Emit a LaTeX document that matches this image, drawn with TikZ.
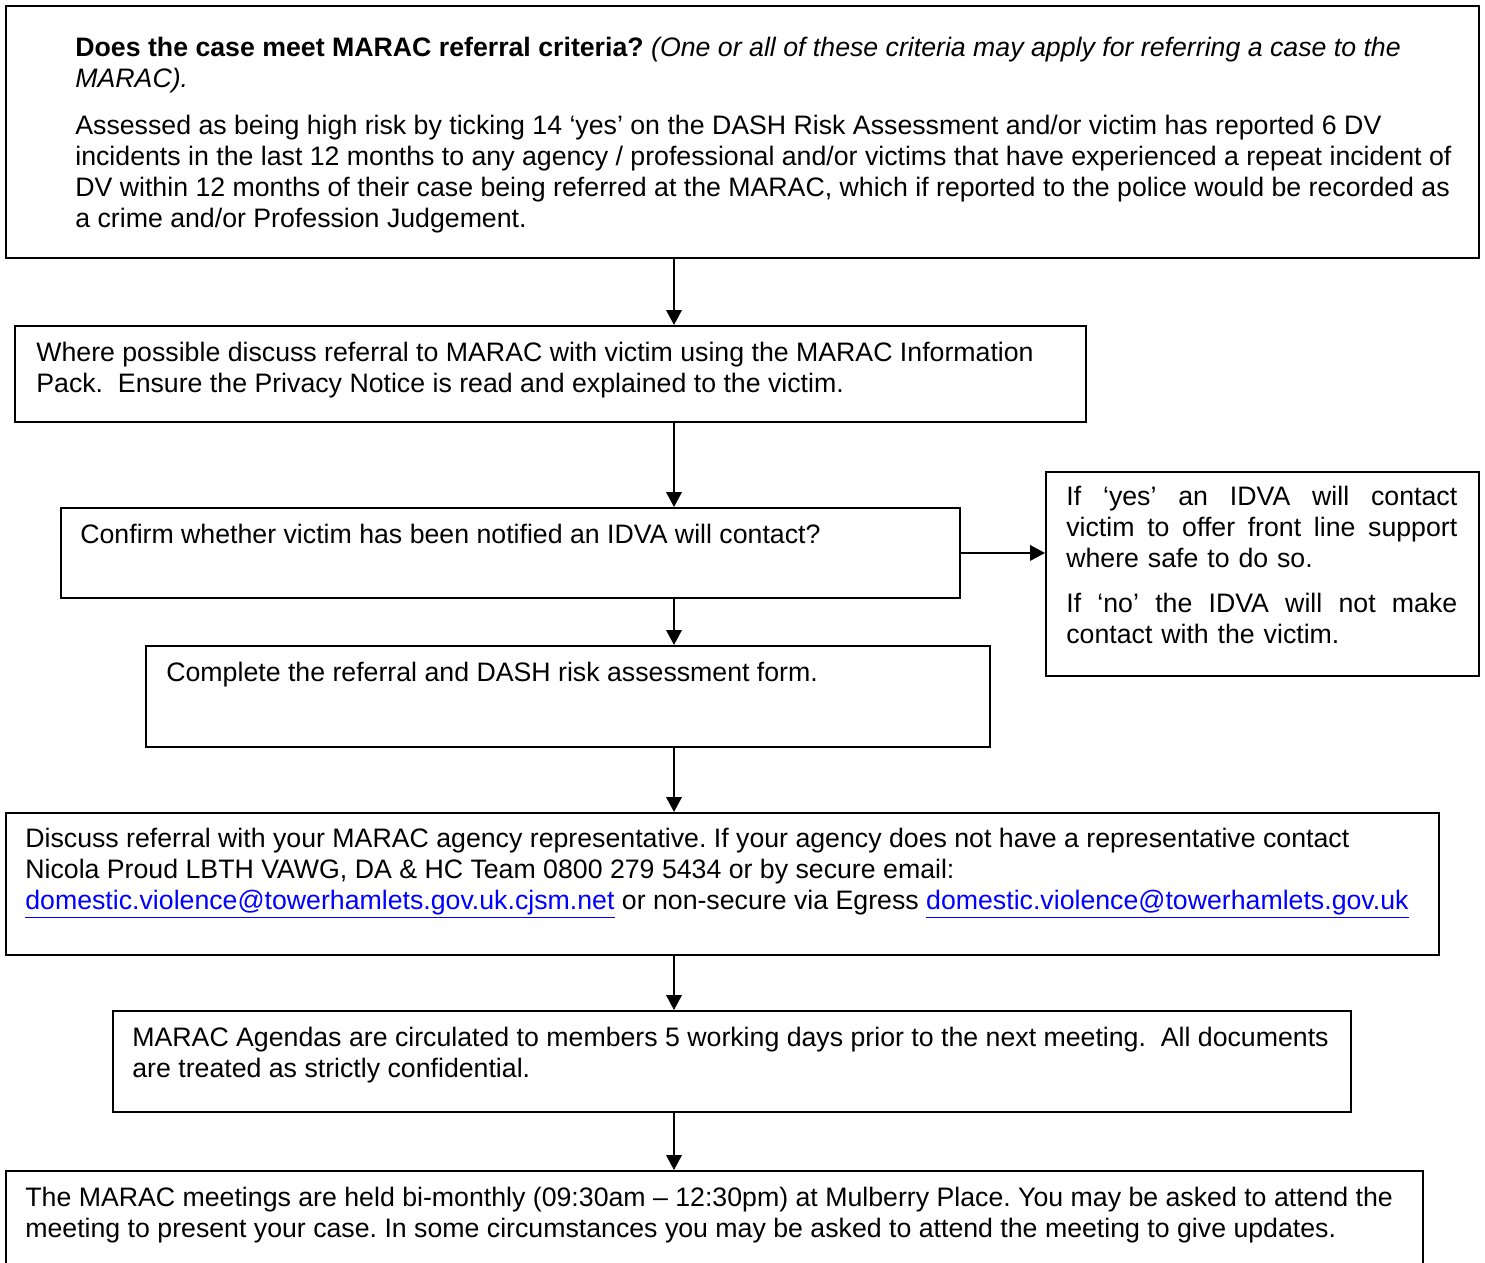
\documentclass[tikz,border=0pt]{standalone}
\usepackage{fontspec}
\setmainfont{Liberation Sans}
\usetikzlibrary{arrows.meta,calc}
\definecolor{linkblue}{HTML}{0000FF}
\newcommand{\lnk}[1]{\textcolor{linkblue}{\underline{#1}}}
\newcommand{\tstrut}{\rule{0pt}{0.36cm}}
\newcommand{\jline}[1]{\leavevmode\hbox to 7.82cm{#1}}
\frenchspacing
\begin{document}
\begin{tikzpicture}[x=0.02cm,y=-0.02cm,
  boxshape/.style args={#1/#2}{draw, line width=1.1pt, rectangle, inner sep=0pt,
     anchor=north west, minimum width=#1*0.02cm, minimum height=#2*0.02cm},
  txt/.style={anchor=north west, inner sep=0pt, align=left,
     font=\fontsize{15.2}{17.6}\selectfont},
  arr/.style={line width=1.2pt, -{Triangle[length=0.3cm,width=0.31cm]}}]
\clip (0,0) rectangle (1485,1262);
\fill[white] (0,0) rectangle (1485,1262);
% boxes
\node[boxshape=1473/252] (b1) at (5,5) {};
\node[boxshape=1071/96] (b2) at (14,325) {};
\node[boxshape=899/90] (b3) at (60,507) {};
\node[boxshape=433/204] (side) at (1045,471) {};
\node[boxshape=844/101] (b4) at (145,645) {};
\node[boxshape=1433/142] (b5) at (5,812) {};
\node[boxshape=1238/101] (b6) at (112,1010) {};
\node[boxshape=1417/120] (b7) at (5,1170) {};
\coordinate (ax) at (674,0);
% texts
\node[txt] (t1) at (75,37) {\tstrut\textbf{Does the case meet MARAC referral criteria?} \textit{(One or all of these criteria may apply for referring a case to the}\\
\textit{MARAC).}\\[0.32cm]
Assessed as being high risk by ticking 14 ‘yes’ on the DASH Risk Assessment and/or victim has reported 6 DV\\
incidents in the last 12 months to any agency / professional and/or victims that have experienced a repeat incident of\\
DV within 12 months of their case being referred at the MARAC, which if reported to the police would be recorded as\\
a crime and/or Profession Judgement.};
\node[txt] (t2) at (36,342) {\tstrut Where possible discuss referral to MARAC with victim using the MARAC Information\\
Pack.\ \ Ensure the Privacy Notice is read and explained to the victim.};
\node[txt] (t3) at (80,524) {\tstrut Confirm whether victim has been notified an IDVA will contact?};
\node[txt, text width=7.82cm] (ts) at (1066,486) {\tstrut\jline{If\hfill ‘yes’\hfill an\hfill IDVA\hfill will\hfill contact}\\
\jline{victim\hfill to\hfill offer\hfill front\hfill line\hfill support}\\
where safe to do so.\\[0.28cm]
\jline{If\hfill ‘no’\hfill the\hfill IDVA\hfill will\hfill not\hfill make}\\
contact with the victim.};
\node[txt] (t4) at (166,662) {\tstrut Complete the referral and DASH risk assessment form.};
\node[txt] (t5) at (25,828) {\tstrut Discuss referral with your MARAC agency representative. If your agency does not have a representative contact\\
Nicola Proud LBTH VAWG, DA \& HC Team 0800 279 5434 or by secure email:\\
\lnk{domestic.violence@towerhamlets.gov.uk.cjsm.net} or non-secure via Egress \lnk{domestic.violence@towerhamlets.gov.uk}};
\node[txt] (t6) at (132,1027) {\tstrut MARAC Agendas are circulated to members 5 working days prior to the next meeting.\ \ All documents\\
are treated as strictly confidential.};
\node[txt] (t7) at (25,1187) {\tstrut The MARAC meetings are held bi-monthly (09:30am – 12:30pm) at Mulberry Place. You may be asked to attend the\\
meeting to present your case. In some circumstances you may be asked to attend the meeting to give updates.};
% connectors
\draw[arr] (b1.south -| ax) -- (b2.north -| ax);
\draw[arr] (b2.south -| ax) -- (b3.north -| ax);
\draw[arr] (b3.south -| ax) -- (b4.north -| ax);
\draw[arr] (b4.south -| ax) -- (b5.north -| ax);
\draw[arr] (b5.south -| ax) -- (b6.north -| ax);
\draw[arr] (b6.south -| ax) -- (b7.north -| ax);
\draw[arr] (b3.east) -- (b3.east -| side.west);
\end{tikzpicture}
\end{document}
